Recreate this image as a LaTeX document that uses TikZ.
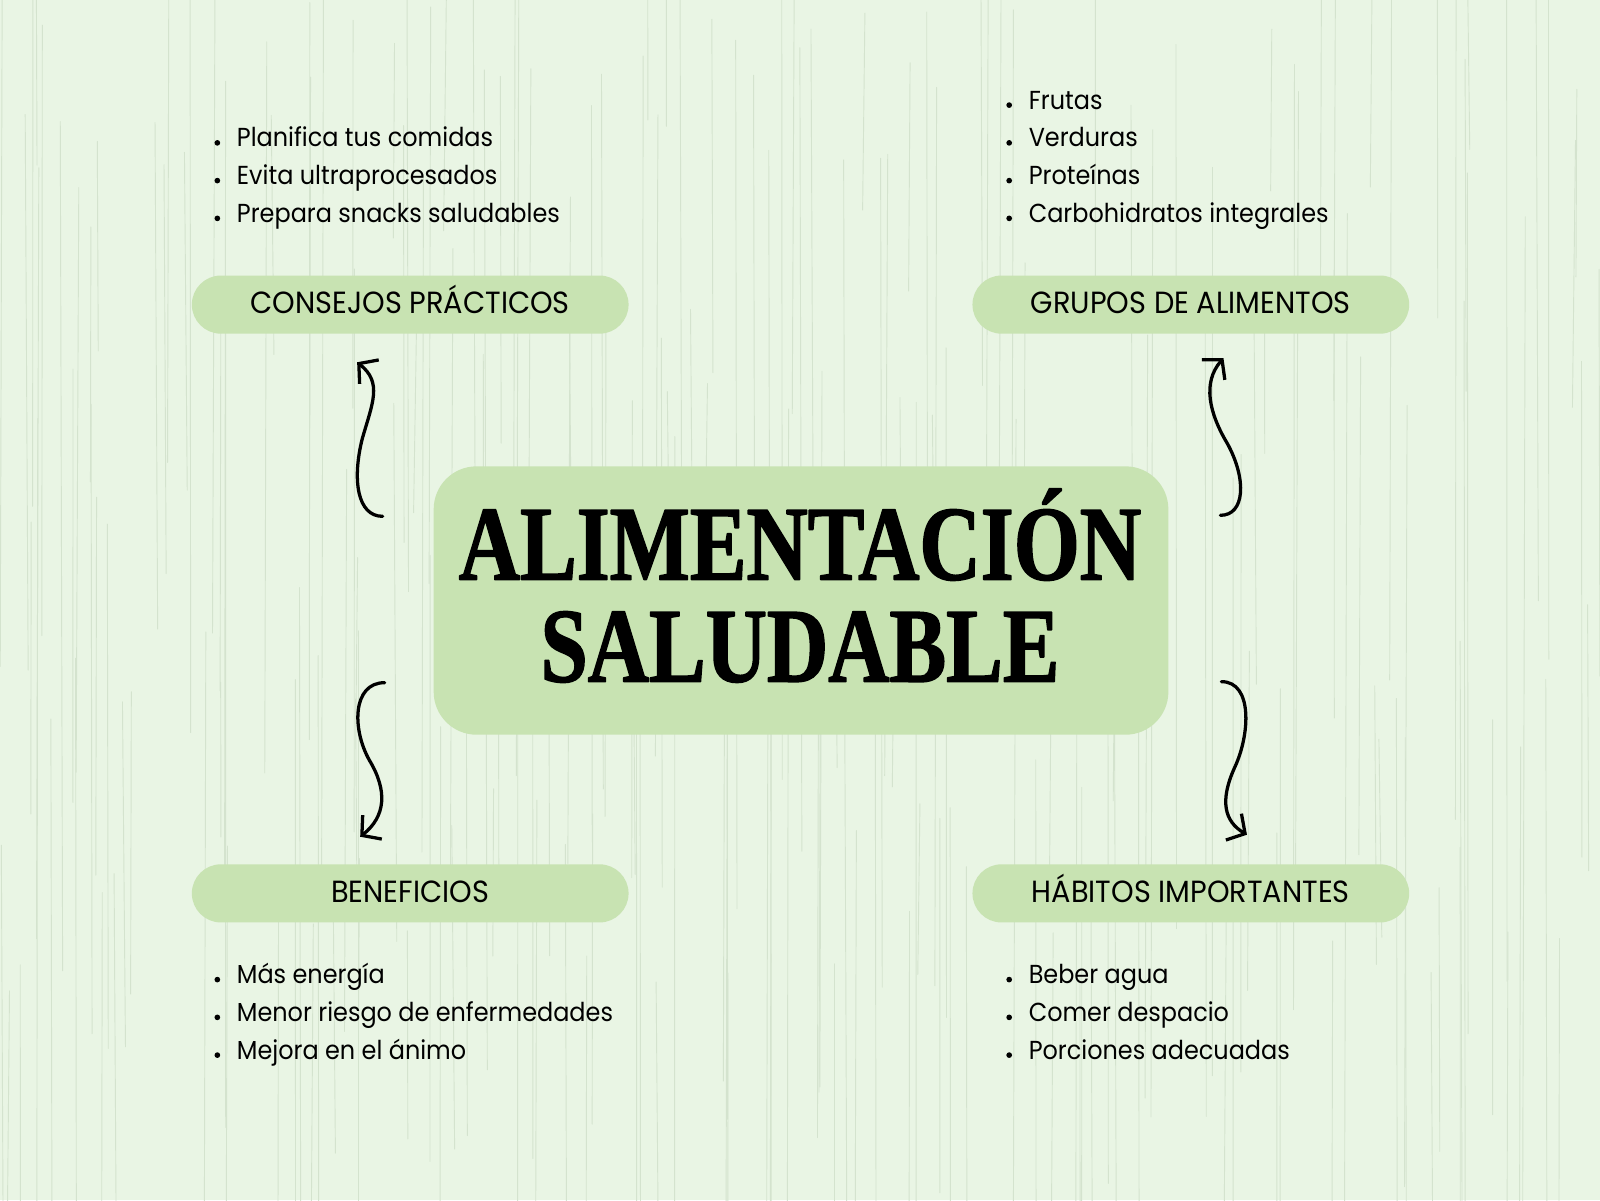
\documentclass[tikz,border=0pt]{standalone}
\usepackage{fontspec}
\setmainfont[FakeStretch=0.92]{Poppins}
\newfontfamily\labelfont[FakeStretch=0.94]{Poppins}
\newfontfamily\titlefont[FakeStretch=0.8, FakeBold=1.4]{Liberation Serif Bold}
\usetikzlibrary{arrows.meta, positioning, calc}
\definecolor{fondo}{RGB}{233,245,228}
\definecolor{veta}{RGB}{212,227,206}
\definecolor{verde}{RGB}{200,227,178}

\begin{document}
\begin{tikzpicture}[> = {Straight Barb[length=13pt, width=30pt]}, % arrow head style
                x = 1pt, y = -1pt, % one unit = one pixel, y going down
                line cap = round, line join = round
            ]

            \tikzstyle{centro}=[fill = verde, rounded corners = 42pt,
            minimum width = 720pt, minimum height = 263pt, inner sep = 0pt]
            \tikzstyle{titulo}=[anchor = base, inner sep = 0pt,
            font = \titlefont\fontsize{104}{104}\selectfont]
            \tikzstyle{etiqueta}=[fill = verde, rounded corners = 28.5pt,
            minimum width = 428pt, minimum height = 57pt, inner sep = 0pt,
            text height = 21pt, text depth = 4pt,
            font = \labelfont\fontsize{30}{30}\selectfont]
            \tikzstyle{punto}=[anchor = base west, inner sep = 0pt,
            font = \fontsize{25.5}{25.5}\selectfont]
            \tikzstyle{flecha}=[->, line width = 3.2pt]

            % background and wood grain
            \path[use as bounding box, fill = fondo] (0,0) rectangle (1568,1176);
            \clip (0,0) rectangle (1568,1176);
            \pgfmathsetseed{11}
            \foreach \i in {1,...,220}{
                \pgfmathsetmacro\gx{rnd*1568}
                \pgfmathsetmacro\gy{rnd*1176-200}
                \pgfmathsetmacro\gl{150+rnd*900}
                \draw[veta, line width = 0.9pt] (\gx,\gy) -- ++(rnd*6-3,\gl);
            }

            \node[centro] (centro) at (785,588.5) {};
            \node[titulo] (titulo1) at (784,568) {ALIMENTACIÓN};
            \node[titulo] (titulo2) at (784,668) {SALUDABLE};

            \node[etiqueta] (consejos) at (402,298.5) {CONSEJOS PRÁCTICOS};
            \node[etiqueta] (grupos) at (1167,298.5) {GRUPOS DE ALIMENTOS};
            \node[etiqueta] (beneficios) at (402,875.5) {BENEFICIOS};
            \node[etiqueta] (habitos) at (1167,875.5) {HÁBITOS IMPORTANTES};

            \foreach \txt [count=\i] in {Planifica tus comidas, Evita ultraprocesados,
                Prepara snacks saludables}{
                \node[punto] (consejo\i) at (232,{107+37*\i}) {\txt};
                \fill (consejo\i.base west) ++(-19,-4) circle (2.8);
            }
            \foreach \txt [count=\i] in {Frutas, Verduras, Proteínas,
                Carbohidratos integrales}{
                \node[punto] (grupo\i) at (1008,{70+37*\i}) {\txt};
                \fill (grupo\i.base west) ++(-19,-4) circle (2.8);
            }
            \foreach \txt [count=\i] in {Más energía, Menor riesgo de enfermedades,
                Mejora en el ánimo}{
                \node[punto] (beneficio\i) at (232,{927+37*\i}) {\txt};
                \fill (beneficio\i.base west) ++(-19,-4) circle (2.8);
            }
            \foreach \txt [count=\i] in {Beber agua, Comer despacio,
                Porciones adecuadas}{
                \node[punto] (habito\i) at (1008,{927+37*\i}) {\txt};
                \fill (habito\i.base west) ++(-19,-4) circle (2.8);
            }

            % curly arrows
            \coordinate (a1) at (375,506); \coordinate (b1) at (350,355);
            \coordinate (a2) at (1196,505); \coordinate (b2) at (1199,351);
            \coordinate (a3) at (377,669); \coordinate (b3) at (353,820);
            \coordinate (a4) at (1197,668); \coordinate (b4) at (1222,818);

            \draw[flecha] (a1) .. controls (350,506) and (345,470) .. (355,430)
            .. controls (365,395) and (375,375) .. (b1);
            \draw[flecha] (a2) .. controls (1220,505) and (1222,470) .. (1203,435)
            .. controls (1185,405) and (1178,375) .. (b2);
            \draw[flecha] (a3) .. controls (345,669) and (345,715) .. (362,745)
            .. controls (380,775) and (378,800) .. (b3);
            \draw[flecha] (a4) .. controls (1228,668) and (1225,720) .. (1210,752)
            .. controls (1195,785) and (1200,805) .. (b4);
\end{tikzpicture}
\end{document}
